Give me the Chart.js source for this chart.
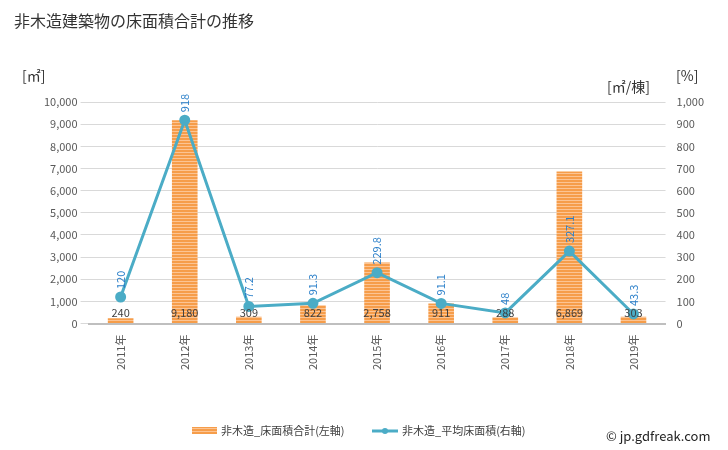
<!DOCTYPE html>
<html>
<head>
<meta charset="utf-8">
<script src="https://cdn.jsdelivr.net/npm/chart.js@4/dist/chart.umd.min.js"></script>
<style>
  body { margin: 0; background: #fff; }
  #wrap { width: 728px; height: 450px; }
</style>
</head>
<body>
<div id="wrap"><canvas id="myChart" width="728" height="450"></canvas></div>
<script>
// Data
const years = ['2011年', '2012年', '2013年', '2014年', '2015年', '2016年', '2017年', '2018年', '2019年'];
const floorArea = [240, 9180, 309, 822, 2758, 911, 288, 6869, 303];
const avgArea = [120, 918, 77.2, 91.3, 229.8, 91.1, 48, 327.1, 43.3];
const avgLabels = ['120', '918', '77.2', '91.3', '229.8', '91.1', '48', '327.1', '43.3'];

const FONT = '"Noto Sans CJK JP", "Noto Sans", sans-serif';
const lineColor = '#4bacc6';

// Striped bar fill
function stripes() {
  let c = document.createElement('canvas');
  c.width = 4; c.height = 3;
  let g = c.getContext('2d');
  g.fillStyle = '#fcc493';
  g.fillRect(0, 0, 4, 3);
  g.fillStyle = '#f69d4a';
  g.fillRect(0, 0, 4, 2);
  return g.createPattern(c, 'repeat');
}

// Labels, titles, legend
const extras = {
  id: 'extras',
  afterDatasetsDraw(chart) {
    const ctx = chart.ctx;
    const xs = chart.scales.x;
    const yl = chart.scales.y;
    const yr = chart.scales.y1;
    ctx.save();

    // bar values near the baseline
    ctx.font = '11px ' + FONT;
    ctx.fillStyle = '#404040';
    ctx.textAlign = 'center';
    ctx.textBaseline = 'bottom';
    floorArea.forEach((v, i) => {
      ctx.fillText(v.toLocaleString('en-US'), xs.getPixelForValue(i), yl.getPixelForValue(0) - 5);
    });

    // line values, rotated
    ctx.fillStyle = '#2a7fc9';
    ctx.textAlign = 'left';
    ctx.textBaseline = 'middle';
    avgArea.forEach((v, i) => {
      ctx.save();
      ctx.translate(xs.getPixelForValue(i), yr.getPixelForValue(v) - 8);
      ctx.rotate(-Math.PI / 2);
      ctx.fillText(avgLabels[i], 0, 0);
      ctx.restore();
    });

    // titles
    ctx.fillStyle = '#333';
    ctx.textBaseline = 'alphabetic';
    ctx.font = '16px ' + FONT;
    ctx.fillText('非木造建築物の床面積合計の推移', 14, 27);
    ctx.font = '14px ' + FONT;
    ctx.fillText('[㎡]', 22, 81);
    ctx.fillText('[%]', 676, 81);
    ctx.fillText('[㎡/棟]', 607, 92);

    // legend
    ctx.font = '11px ' + FONT;
    ctx.textBaseline = 'middle';
    ctx.fillStyle = stripes();
    ctx.fillRect(192, 427, 25, 7);
    ctx.fillStyle = '#404040';
    ctx.fillText('非木造_床面積合計(左軸)', 221, 431);
    ctx.strokeStyle = lineColor;
    ctx.lineWidth = 3;
    ctx.beginPath();
    ctx.moveTo(372, 431);
    ctx.lineTo(398, 431);
    ctx.stroke();
    ctx.fillStyle = lineColor;
    ctx.beginPath();
    ctx.arc(385, 431, 3, 0, Math.PI * 2);
    ctx.fill();
    ctx.fillStyle = '#404040';
    ctx.fillText('非木造_平均床面積(右軸)', 402, 431);

    ctx.font = '13px ' + FONT;
    ctx.fillStyle = '#222';
    ctx.fillText('© jp.gdfreak.com', 606, 436);
    ctx.restore();
  }
};

const ctx = document.getElementById('myChart');

new Chart(ctx, {
  data: {
    labels: years,
    datasets: [
      {
        type: 'line',
        label: '非木造_平均床面積(右軸)',
        data: avgArea,
        yAxisID: 'y1',
        borderColor: lineColor,
        backgroundColor: lineColor,
        borderWidth: 3,
        pointRadius: 4,
        pointHoverRadius: 4,
        tension: 0,
        order: 0
      },
      {
        type: 'bar',
        label: '非木造_床面積合計(左軸)',
        data: floorArea,
        yAxisID: 'y',
        backgroundColor: stripes(),
        barPercentage: 0.4,
        categoryPercentage: 1,
        order: 1
      }
    ]
  },
  options: {
    responsive: false,
    animation: false,
    layout: { padding: { top: 102, right: 21, left: 41, bottom: 77 } },
    plugins: {
      legend: { display: false },
      tooltip: { enabled: false }
    },
    scales: {
      x: {
        grid: { display: false },
        border: { color: '#bfbfbf', width: 2 },
        ticks: {
          maxRotation: 90, minRotation: 90,
          color: '#595959',
          font: { size: 11, family: FONT }
        }
      },
      y: {
        position: 'left',
        min: 0, max: 10000,
        grid: { color: '#d9d9d9' },
        border: { display: false },
        ticks: {
          stepSize: 1000,
          color: '#595959',
          font: { size: 11, family: FONT },
          callback: v => v.toLocaleString('en-US')
        }
      },
      y1: {
        position: 'right',
        min: 0, max: 1000,
        grid: { display: false },
        border: { display: false },
        ticks: {
          stepSize: 100,
          color: '#595959',
          font: { size: 11, family: FONT },
          callback: v => v.toLocaleString('en-US')
        }
      }
    }
  },
  plugins: [extras]
});
</script>
</body>
</html>
